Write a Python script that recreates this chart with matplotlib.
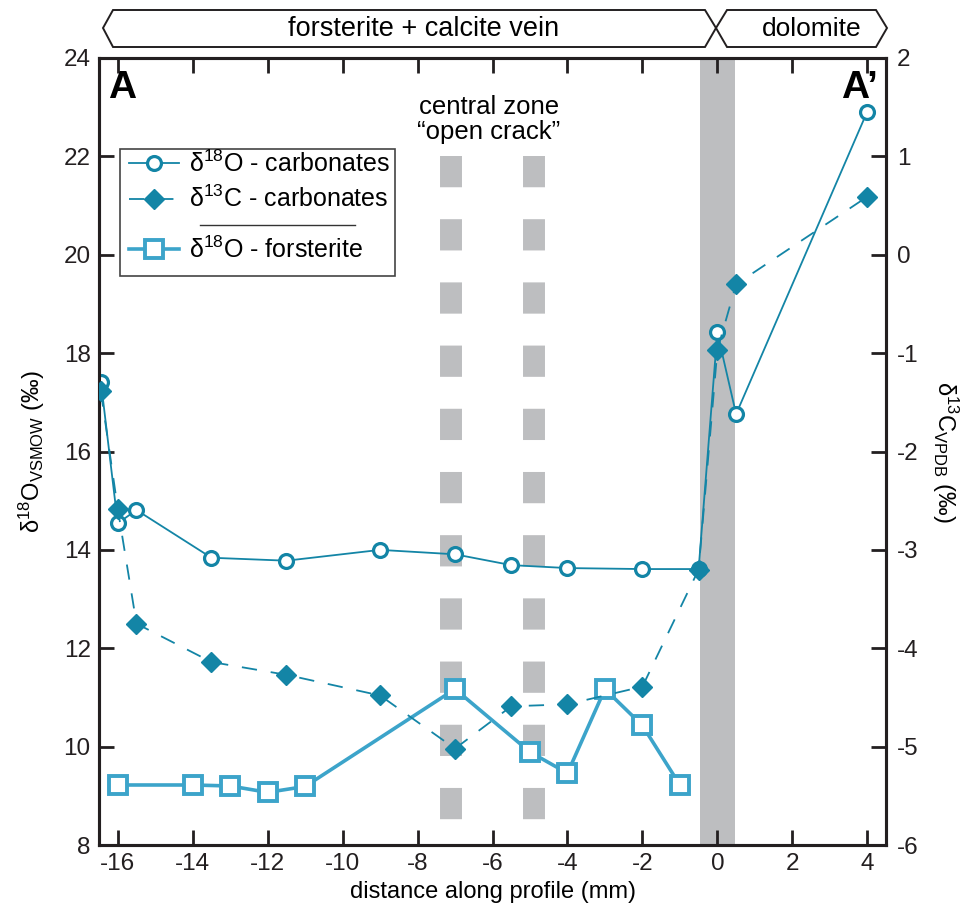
import matplotlib
matplotlib.use("Agg")
import matplotlib.pyplot as plt
from matplotlib.patches import Polygon, Rectangle
from matplotlib.lines import Line2D

plt.rcParams['font.family'] = ['Liberation Sans', 'DejaVu Sans']
plt.rcParams['mathtext.fontset'] = 'custom'
plt.rcParams['mathtext.rm'] = 'Liberation Sans'
plt.rcParams['mathtext.it'] = 'Liberation Sans'
plt.rcParams['lines.scale_dashes'] = False
plt.rcParams['axes.unicode_minus'] = False

# ---- data ----
# d18O carbonates (left axis, permil VSMOW)
x_o_carb = [-16.45, -16.0, -15.5, -13.5, -11.5, -9.0, -7.0, -5.5, -4.0, -2.0, -0.5, 0.0, 0.5, 4.0]
o_carb = [17.42, 14.54, 14.81, 13.84, 13.78, 14.0, 13.91, 13.69, 13.63, 13.61, 13.61, 18.42, 16.76, 22.91]

# d13C carbonates (right axis, permil VPDB)
x_c_carb = [-16.45, -16.0, -15.5, -13.5, -11.5, -9.0, -7.0, -5.5, -4.0, -2.0, -0.5, 0.0, 0.5, 4.0]
c_carb = [-1.39, -2.58, -3.75, -4.14, -4.27, -4.48, -5.02, -4.59, -4.57, -4.39, -3.20, -0.97, -0.30, 0.59]

# d18O forsterite (left axis)
x_o_fo = [-16.0, -14.0, -13.0, -12.0, -11.0, -7.0, -5.0, -4.0, -3.0, -2.0, -1.0]
o_fo = [9.22, 9.22, 9.20, 9.07, 9.19, 11.17, 9.89, 9.46, 11.17, 10.43, 9.22]

crack_x = [-7.1, -4.9]
band = (-0.47, 0.47)

c_carb_col = '#1385a6'
c_fo_col = '#3ca4ca'
grey = '#bdbec0'

fig = plt.figure(figsize=(9.74, 9.17), dpi=100)
ax = fig.add_axes([99/974, 1-845/917, (886-99)/974, (845-58)/917])
ax2 = ax.twinx()

# grey dolomite contact band and dashed "open crack" columns
ax.axvspan(band[0], band[1], color=grey, lw=0, zorder=0)
for xc in crack_x:
    ax.plot([xc, xc], [22.0, 8.45], color=grey, lw=15.8, dashes=(22.5, 23.0),
            solid_capstyle='butt', dash_capstyle='butt', zorder=0)

l1, = ax.plot(x_o_carb, o_carb, '-o', color=c_carb_col, lw=1.3, ms=10,
              mfc='white', mec=c_carb_col, mew=2.3, zorder=4)
l3, = ax.plot(x_o_fo, o_fo, '-s', color=c_fo_col, lw=2.6, ms=12.5,
              mfc='white', mec=c_fo_col, mew=2.8, zorder=3)
l2, = ax2.plot(x_c_carb, c_carb, '--D', color=c_carb_col, lw=1.3, ms=10,
               mfc=c_carb_col, mec=c_carb_col, dashes=(11, 10), zorder=5)

ax.set_xlim(-16.5, 4.5)
ax.set_ylim(8, 24)
ax2.set_ylim(-6, 2)
ax.set_xticks(range(-16, 5, 2))
ax.set_yticks(range(8, 25, 2))
ax2.set_yticks(range(-6, 3, 1))

for a in (ax, ax2):
    for s in a.spines.values():
        s.set_linewidth(2.2)
        s.set_color('#231f20')
ax.tick_params(axis='both', direction='in', length=11, width=2, labelsize=17.5,
               top=True, pad=6, colors='#231f20')
ax2.tick_params(axis='y', direction='in', length=11, width=2, labelsize=17.5,
                pad=8, colors='#231f20')

ax.set_xlabel('distance along profile (mm)', fontsize=17, labelpad=4)
ax.set_ylabel(r'δ$^{18}$O$_{\mathrm{VSMOW}}$ (‰)', fontsize=17, labelpad=12)
ax2.set_ylabel(r'δ$^{13}$C$_{\mathrm{VPDB}}$ (‰)', fontsize=17, rotation=270, labelpad=30)

ax.text(0.012, 0.985, 'A', transform=ax.transAxes, fontsize=28, fontweight='bold',
        ha='left', va='top')
ax.text(0.99, 0.985, 'A’', transform=ax.transAxes, fontsize=28, fontweight='bold',
        ha='right', va='top')
ax.text(-6.1, 22.25, 'central zone\n“open crack”', fontsize=18.5, ha='center', va='bottom',
        linespacing=1.05)

# legend: carbonates block, separator, forsterite entry, one frame around all
frame = Rectangle((0.027, 0.723), 0.349, 0.161, transform=ax.transAxes, fc='white',
                  ec='#444444', lw=1.2, zorder=7)
ax2.add_artist(frame)
leg_kw = dict(fontsize=18, frameon=False, handlelength=2.0, handletextpad=0.4,
              borderpad=0.35, borderaxespad=0)
legA = ax2.legend([l1, l2], [r'δ$^{18}$O - carbonates', r'δ$^{13}$C - carbonates'],
                  loc='center left', bbox_to_anchor=(0.027, 0.843), labelspacing=0.35, **leg_kw)
legA.set_zorder(8)
ax2.add_artist(legA)
legB = ax2.legend([l3], [r'δ$^{18}$O - forsterite'],
                  loc='center left', bbox_to_anchor=(0.027, 0.756), **leg_kw)
legB.set_zorder(8)
ax2.add_artist(Line2D([0.128, 0.325], [0.788, 0.788], transform=ax.transAxes,
                      color='#333333', lw=1.0, zorder=10))


# banner across the top
def px(x, y):
    return (x / 974, 1 - y / 917)


left_box = [px(103, 28), px(113, 10), px(705, 10), px(716, 28), px(705, 47), px(113, 47)]
right_box = [px(716, 28), px(727, 10), px(876, 10), px(887, 28), px(876, 47), px(727, 47)]
for pts in (left_box, right_box):
    fig.add_artist(Polygon(pts, closed=True, transform=fig.transFigure, fc='white',
                           ec='#231f20', lw=1.4))
fig.text(*px(424, 29), 'forsterite + calcite vein', fontsize=19.5, ha='center', va='center')
fig.text(*px(812, 29), 'dolomite', fontsize=19, ha='center', va='center')

fig.savefig('out.png', dpi=100)
